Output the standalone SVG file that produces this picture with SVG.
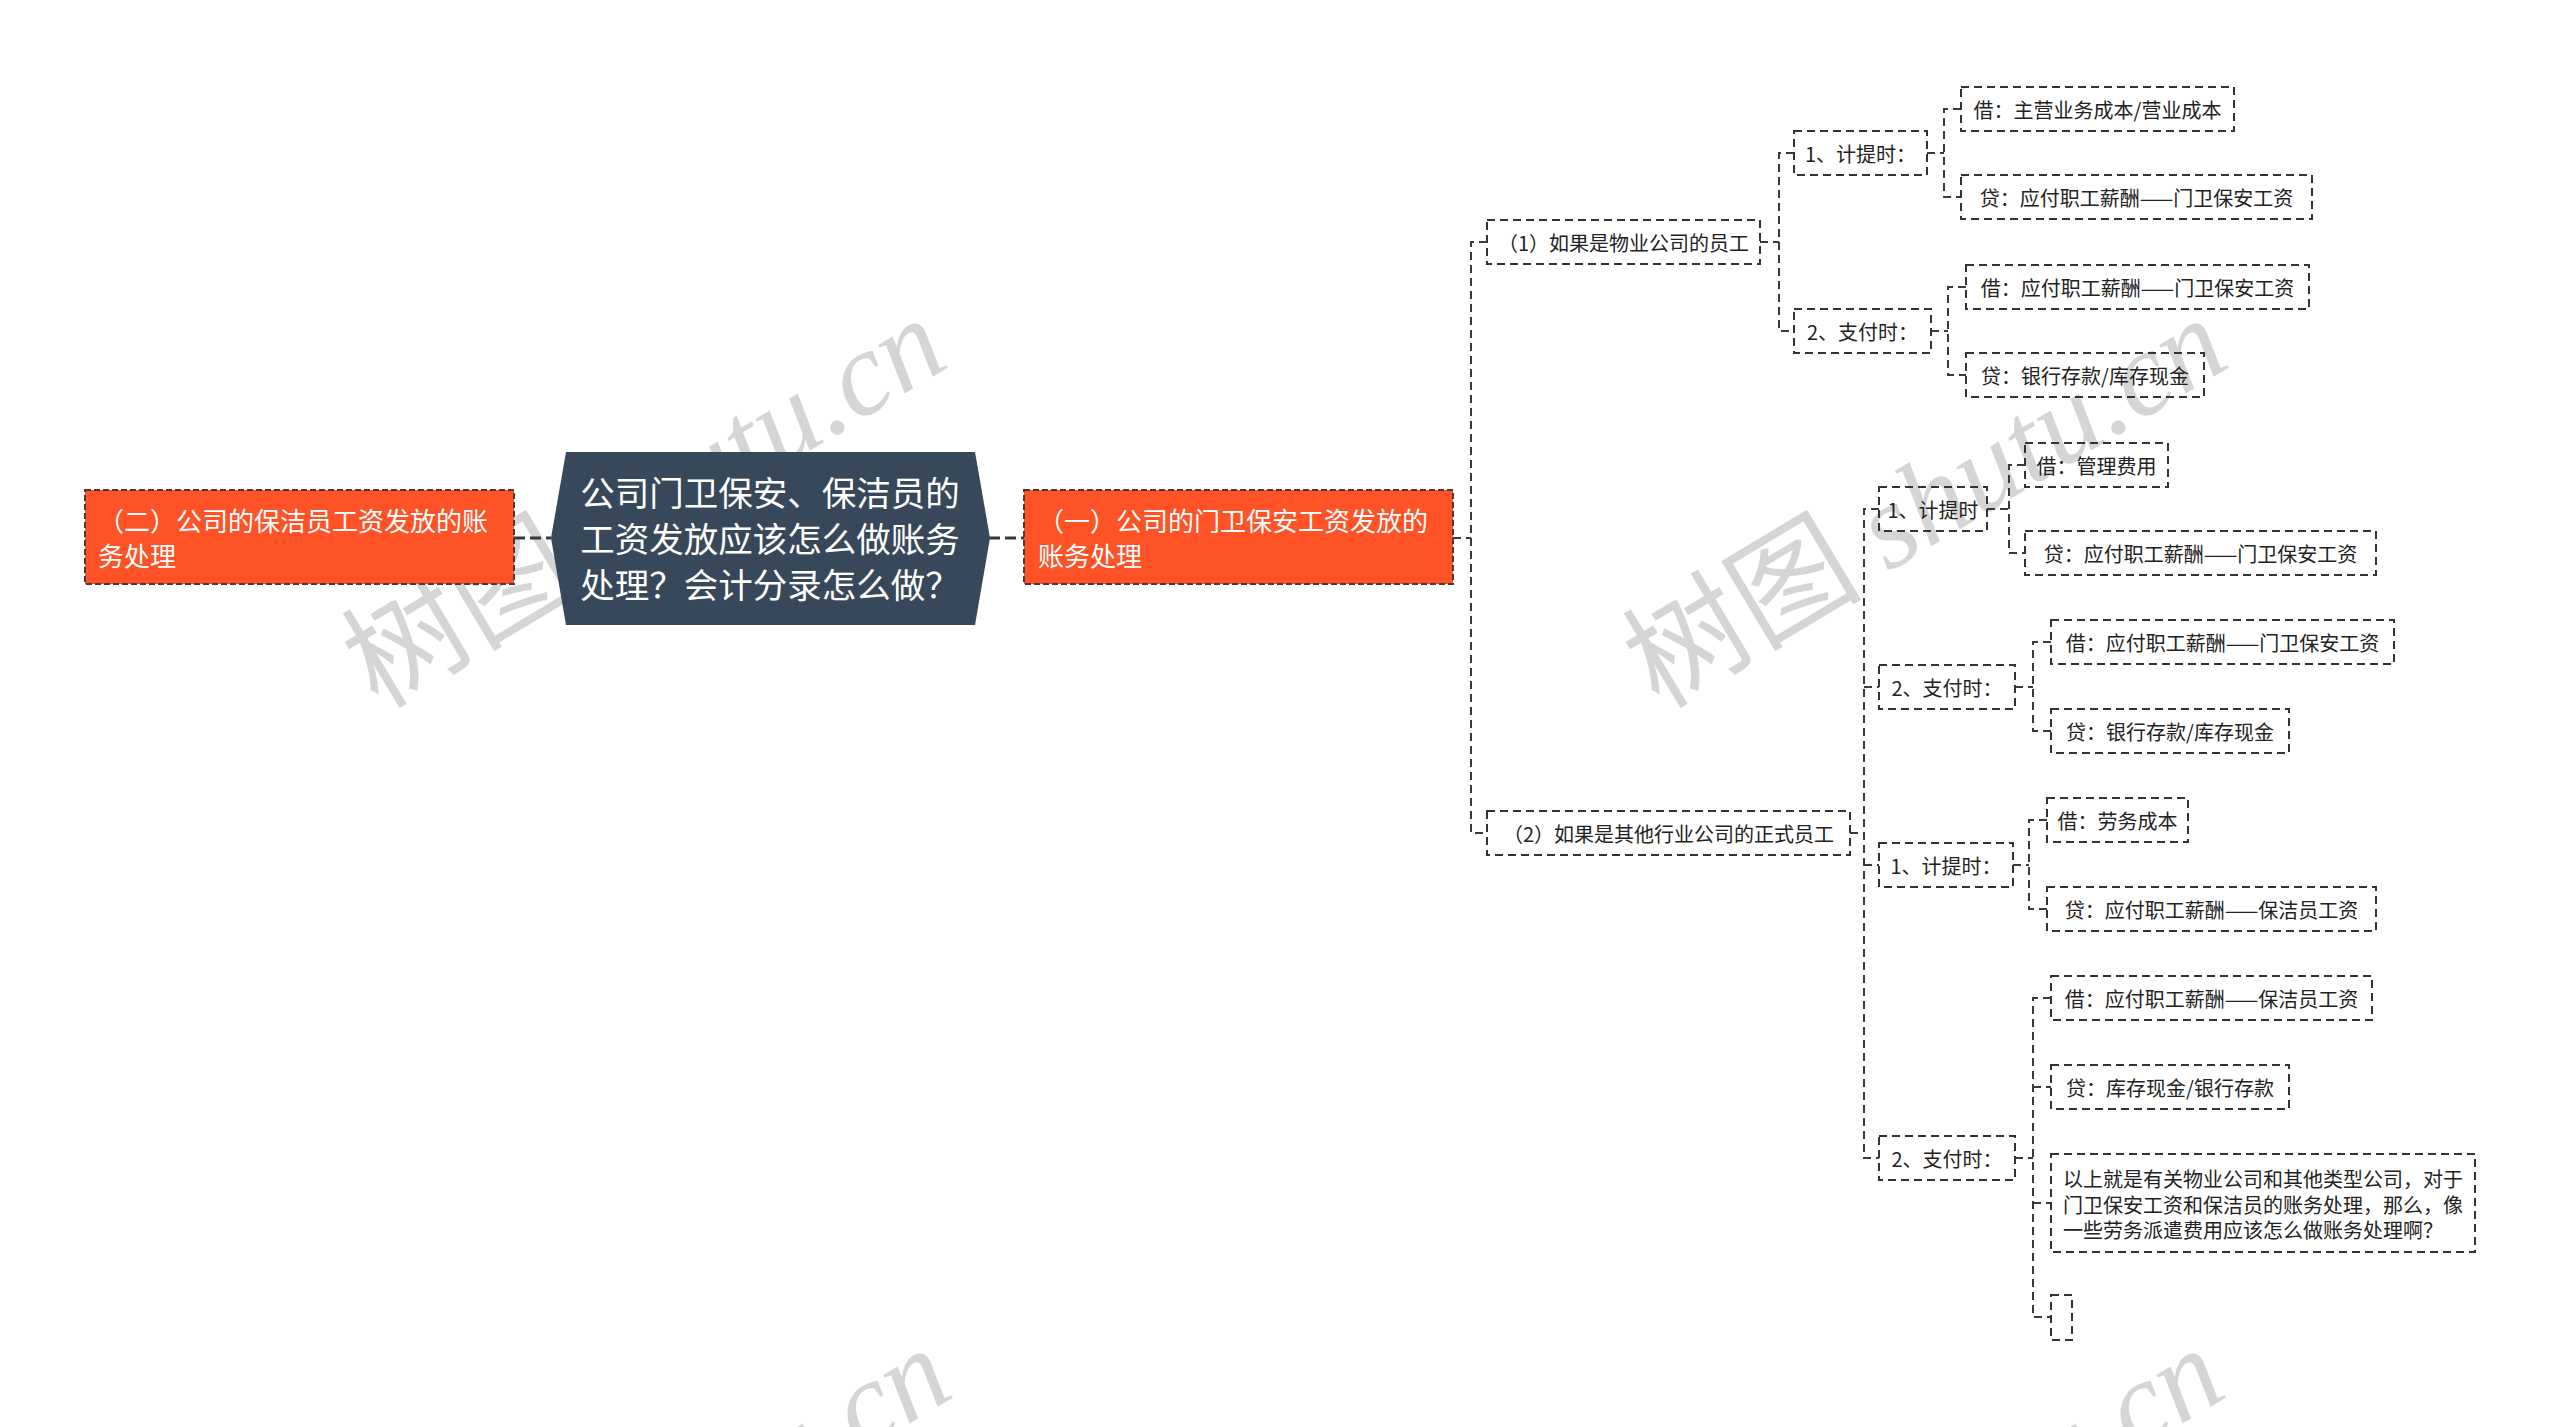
<svg xmlns="http://www.w3.org/2000/svg" width="2560" height="1427" viewBox="0 0 2560 1427">
<style>
.wm{font-family:"Noto Sans CJK SC",sans-serif;font-size:120px;fill:#d5d5d5}
.wm tspan{font-family:"Liberation Serif","Noto Sans CJK SC",serif;font-style:italic}
.conn{fill:none;stroke:#3a3a3a;stroke-width:2;stroke-dasharray:8 5}
.main{fill:none;stroke:#2f3b46;stroke-width:3;stroke-dasharray:11 5}
.leaf rect{fill:none;stroke:#333;stroke-width:2;stroke-dasharray:8 5}
.leaf text{font-family:"Noto Sans CJK SC",sans-serif;font-size:20px;fill:#222;text-anchor:middle;dominant-baseline:central}
.org rect{fill:#FF5226;stroke:#4a3a35;stroke-width:2;stroke-dasharray:6 3}
.org text{font-family:"Noto Sans CJK SC",sans-serif;font-size:26px;fill:#fff;dominant-baseline:central}
.root polygon{fill:#37485A}
.root text{font-family:"Noto Sans CJK SC",sans-serif;font-size:34.5px;fill:#fff;text-anchor:middle;dominant-baseline:central}
</style>
<rect width="2560" height="1427" fill="#fff"/>
<g id="watermarks">
<text class="wm" transform="translate(378,710) rotate(-31)">树图 <tspan>shutu.cn</tspan></text>
<text class="wm" transform="translate(1659,710) rotate(-31)">树图 <tspan>shutu.cn</tspan></text>
<text class="wm" transform="translate(383,1740) rotate(-31)">树图 <tspan>shutu.cn</tspan></text>
<text class="wm" transform="translate(1656,1740) rotate(-31)">树图 <tspan>shutu.cn</tspan></text>
</g>
<g id="connectors">
<path class="main" d="M514 538 H551 M989 538 H1024"/>
<path class="conn" d="M1453 538 H1471 M1487 242 H1471 V833 H1487"/>
<path class="conn" d="M1760 242 H1779 M1794 153 H1779 V331 H1794"/>
<path class="conn" d="M1927 153 H1944 M1961 109 H1944 V197 H1961"/>
<path class="conn" d="M1931 331 H1948 M1966 287 H1948 V375 H1966"/>
<path class="conn" d="M1850 833 H1864 M1879 509 H1864 V1158 H1879 M1864 687 H1879 M1864 865 H1879"/>
<path class="conn" d="M1987 509 H2009 M2025 465 H2009 V553 H2025"/>
<path class="conn" d="M2015 687 H2033 M2051 642 H2033 V731 H2051"/>
<path class="conn" d="M2013 865 H2029 M2047 820 H2029 V909 H2047"/>
<path class="conn" d="M2015 1158 H2033 M2051 998 H2033 V1317 H2051 M2033 1087 H2051 M2033 1203 H2051"/>
</g>
<g id="root" class="root">
<polygon points="566,452 975,452 990,538 975,625 566,625 551,538"/>
<text x="770" y="491">公司门卫保安、保洁员的</text>
<text x="770" y="537">工资发放应该怎么做账务</text>
<text x="770" y="583">处理？会计分录怎么做？</text>
</g>
<g id="n-left" class="org">
<rect x="85" y="490" width="429" height="94"/>
<text x="98" y="519">（二）公司的保洁员工资发放的账</text>
<text x="98" y="554">务处理</text>
</g>
<g id="n-right" class="org">
<rect x="1024" y="490" width="429" height="94"/>
<text x="1038" y="519">（一）公司的门卫保安工资发放的</text>
<text x="1038" y="554">账务处理</text>
</g>
<g id="n1" class="leaf"><rect x="1487" y="220" width="273" height="44"/><text x="1623.5" y="242">（1）如果是物业公司的员工</text></g>
<g id="n1a" class="leaf"><rect x="1794" y="131" width="133" height="44"/><text x="1860.5" y="153">1、计提时：</text></g>
<g id="n1a1" class="leaf"><rect x="1961" y="87" width="273" height="44"/><text x="2097.5" y="109">借：主营业务成本/营业成本</text></g>
<g id="n1a2" class="leaf"><rect x="1961" y="175" width="351" height="44"/><text x="2136.5" y="197">贷：应付职工薪酬——门卫保安工资</text></g>
<g id="n1b" class="leaf"><rect x="1794" y="309" width="137" height="44"/><text x="1862.5" y="331">2、支付时：</text></g>
<g id="n1b1" class="leaf"><rect x="1966" y="265" width="343" height="44"/><text x="2137.5" y="287">借：应付职工薪酬——门卫保安工资</text></g>
<g id="n1b2" class="leaf"><rect x="1966" y="353" width="238" height="44"/><text x="2085" y="375">贷：银行存款/库存现金</text></g>
<g id="n2" class="leaf"><rect x="1487" y="811" width="363" height="44"/><text x="1668.5" y="833">（2）如果是其他行业公司的正式员工</text></g>
<g id="n2a" class="leaf"><rect x="1879" y="487" width="108" height="44"/><text x="1933" y="509">1、计提时</text></g>
<g id="n2a1" class="leaf"><rect x="2025" y="443" width="143" height="44"/><text x="2096.5" y="465">借：管理费用</text></g>
<g id="n2a2" class="leaf"><rect x="2025" y="531" width="351" height="44"/><text x="2200.5" y="553">贷：应付职工薪酬——门卫保安工资</text></g>
<g id="n2b" class="leaf"><rect x="1879" y="665" width="136" height="44"/><text x="1947" y="687">2、支付时：</text></g>
<g id="n2b1" class="leaf"><rect x="2051" y="620" width="343" height="44"/><text x="2222.5" y="642">借：应付职工薪酬——门卫保安工资</text></g>
<g id="n2b2" class="leaf"><rect x="2051" y="709" width="238" height="44"/><text x="2170" y="731">贷：银行存款/库存现金</text></g>
<g id="n2c" class="leaf"><rect x="1879" y="843" width="134" height="44"/><text x="1946" y="865">1、计提时：</text></g>
<g id="n2c1" class="leaf"><rect x="2047" y="798" width="141" height="44"/><text x="2117.5" y="820">借：劳务成本</text></g>
<g id="n2c2" class="leaf"><rect x="2047" y="887" width="329" height="44"/><text x="2211.5" y="909">贷：应付职工薪酬——保洁员工资</text></g>
<g id="n2d" class="leaf"><rect x="1879" y="1136" width="136" height="44"/><text x="1947" y="1158">2、支付时：</text></g>
<g id="n2d1" class="leaf"><rect x="2051" y="976" width="321" height="44"/><text x="2211.5" y="998">借：应付职工薪酬——保洁员工资</text></g>
<g id="n2d2" class="leaf"><rect x="2051" y="1065" width="238" height="44"/><text x="2170" y="1087">贷：库存现金/银行存款</text></g>
<g id="n2d3" class="leaf"><rect x="2051" y="1154" width="424" height="98"/>
<text x="2063" y="1178" style="text-anchor:start">以上就是有关物业公司和其他类型公司，对于</text>
<text x="2063" y="1204" style="text-anchor:start">门卫保安工资和保洁员的账务处理，那么，像</text>
<text x="2063" y="1229" style="text-anchor:start">一些劳务派遣费用应该怎么做账务处理啊？</text>
</g>
<g id="n2d4" class="leaf"><rect x="2051" y="1295" width="21" height="45"/></g>
</svg>
